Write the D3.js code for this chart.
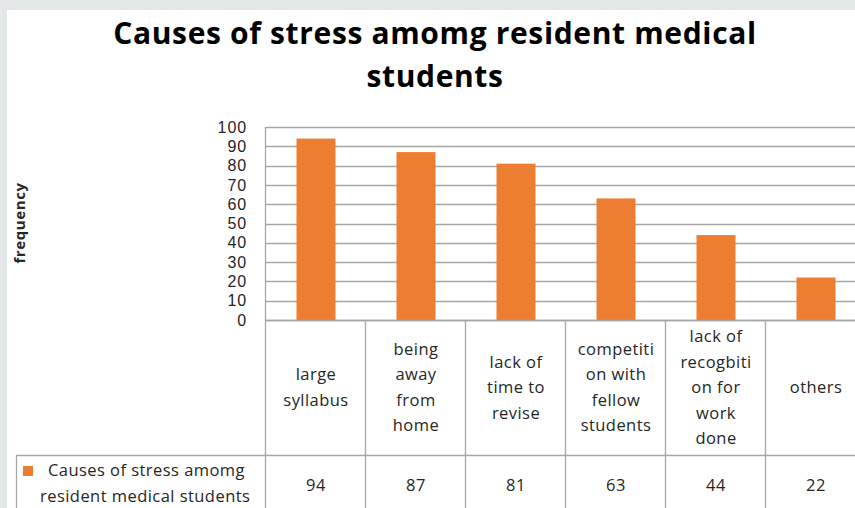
<!DOCTYPE html>
<html><head><meta charset="utf-8">
<script src="https://cdn.jsdelivr.net/npm/d3@7"></script>
<style>
html,body{margin:0;padding:0;background:#e4e7e7;}
svg{display:block;}
text{font-family:"Open Sans","Noto Sans",sans-serif;fill:#262626;}
</style></head>
<body>
<svg id="c" width="855" height="508"></svg>
<script>
const titleLines = ["Causes of stress amomg resident medical", "students"];
const seriesName = "Causes of stress amomg resident medical students";
const legendLines = ["Causes of stress amomg", "resident medical students"];
const categories = ["large syllabus", "being away from home", "lack of time to revise", "competition with fellow students", "lack of recogbition for work done", "others"];
const categoryLines = [
  ["large", "syllabus"],
  ["being", "away", "from", "home"],
  ["lack of", "time to", "revise"],
  ["competiti", "on with", "fellow", "students"],
  ["lack of", "recogbiti", "on for", "work", "done"],
  ["others"]
];
const values = [94, 87, 81, 63, 44, 22];
const yTicks = [0, 10, 20, 30, 40, 50, 60, 70, 80, 90, 100];
const yLabel = "frequency";

(function () {
const svg = d3.select("#c");
svg.append("rect").attr("x", 7).attr("y", 10).attr("width", 848).attr("height", 498).attr("fill", "#fff");

const left = 266, catW = 100, plotTop = 127, plotBottom = 320;
const fs = "16.5px", ls = "0.45px";
const x = d3.scaleBand().domain(categories).range([left, left + catW * categories.length]).paddingInner(0).paddingOuter(0);
const y = d3.scaleLinear().domain([0, 100]).range([plotBottom, plotTop]);
const gridColor = "#a6a6a6";

svg.append("g").selectAll("line").data(yTicks).join("line")
  .attr("x1", left).attr("x2", 855)
  .attr("y1", d => Math.round(y(d)) + 0.5).attr("y2", d => Math.round(y(d)) + 0.5)
  .attr("stroke", gridColor).attr("stroke-width", 1.3);

const yAxis = d3.axisLeft(y).tickValues(yTicks).tickSize(0).tickPadding(19);
const ga = svg.append("g").attr("transform", `translate(${left},0)`).call(yAxis);
ga.select(".domain").remove();
ga.selectAll("text").style("font-size", "16px").style("letter-spacing", "0.9px").style("fill", "#262626")
  .style("font-family", "'Liberation Sans',Arial,sans-serif");

const barW = 39;
svg.append("g").selectAll("rect").data(values).join("rect")
  .attr("x", (d, i) => x(categories[i]) + x.bandwidth() / 2 - barW / 2)
  .attr("width", barW)
  .attr("y", d => y(d))
  .attr("height", d => y(0) - y(d))
  .attr("fill", "#ed7d31");

const rowTop = plotBottom, rowMid = 455, rowBot = 520;
const tg = svg.append("g").attr("stroke", gridColor).attr("stroke-width", 1.3).attr("fill", "none");
tg.append("line").attr("x1", left).attr("x2", 855).attr("y1", rowTop + 0.5).attr("y2", rowTop + 0.5);
tg.append("line").attr("x1", 16).attr("x2", 855).attr("y1", rowMid + 0.5).attr("y2", rowMid + 0.5);
tg.append("line").attr("x1", 16.5).attr("x2", 16.5).attr("y1", rowMid).attr("y2", rowBot);
const bounds = categories.map(c => x(c));
tg.selectAll("line.v").data(bounds).join("line").attr("class", "v")
  .attr("x1", d => d - 0.5).attr("x2", d => d - 0.5)
  .attr("y1", (d, i) => i === 0 ? plotTop : rowTop).attr("y2", rowBot);

const lh = 25.5;
categoryLines.forEach((lines, i) => {
  const cx = x(categories[i]) + x.bandwidth() / 2;
  const cy = (rowTop + rowMid) / 2;
  const t = svg.append("text").attr("text-anchor", "middle").style("font-size", fs).style("letter-spacing", ls);
  lines.forEach((ln, j) => {
    t.append("tspan").attr("x", cx)
      .attr("y", cy + (j - (lines.length - 1) / 2) * lh + 5.5)
      .text(ln);
  });
});

svg.append("g").selectAll("text").data(values).join("text")
  .attr("x", (d, i) => x(categories[i]) + x.bandwidth() / 2)
  .attr("y", 491).attr("text-anchor", "middle").style("font-size", fs).style("letter-spacing", ls)
  .text(d => d);

svg.append("rect").attr("x", 23).attr("y", 466).attr("width", 10).attr("height", 10).attr("fill", "#ed7d31");
svg.append("text").attr("x", 48).attr("y", 476).style("font-size", fs).style("letter-spacing", ls).text(legendLines[0]);
svg.append("text").attr("x", 40).attr("y", 502).style("font-size", fs).style("letter-spacing", ls).text(legendLines[1]);

const tt = svg.append("text").attr("text-anchor", "middle").style("font-size", "30px")
  .style("font-weight", "bold").style("letter-spacing", "0.65px");
titleLines.forEach((ln, j) => tt.append("tspan").attr("x", 435).attr("y", 44 + j * 43).text(ln).style("fill", "#000"));

svg.append("text").attr("transform", "translate(25,223) rotate(-90)").attr("text-anchor", "middle")
  .style("font-size", "15px").style("font-weight", "bold").style("letter-spacing", "0.6px").text(yLabel);
})();
</script>
</body></html>
